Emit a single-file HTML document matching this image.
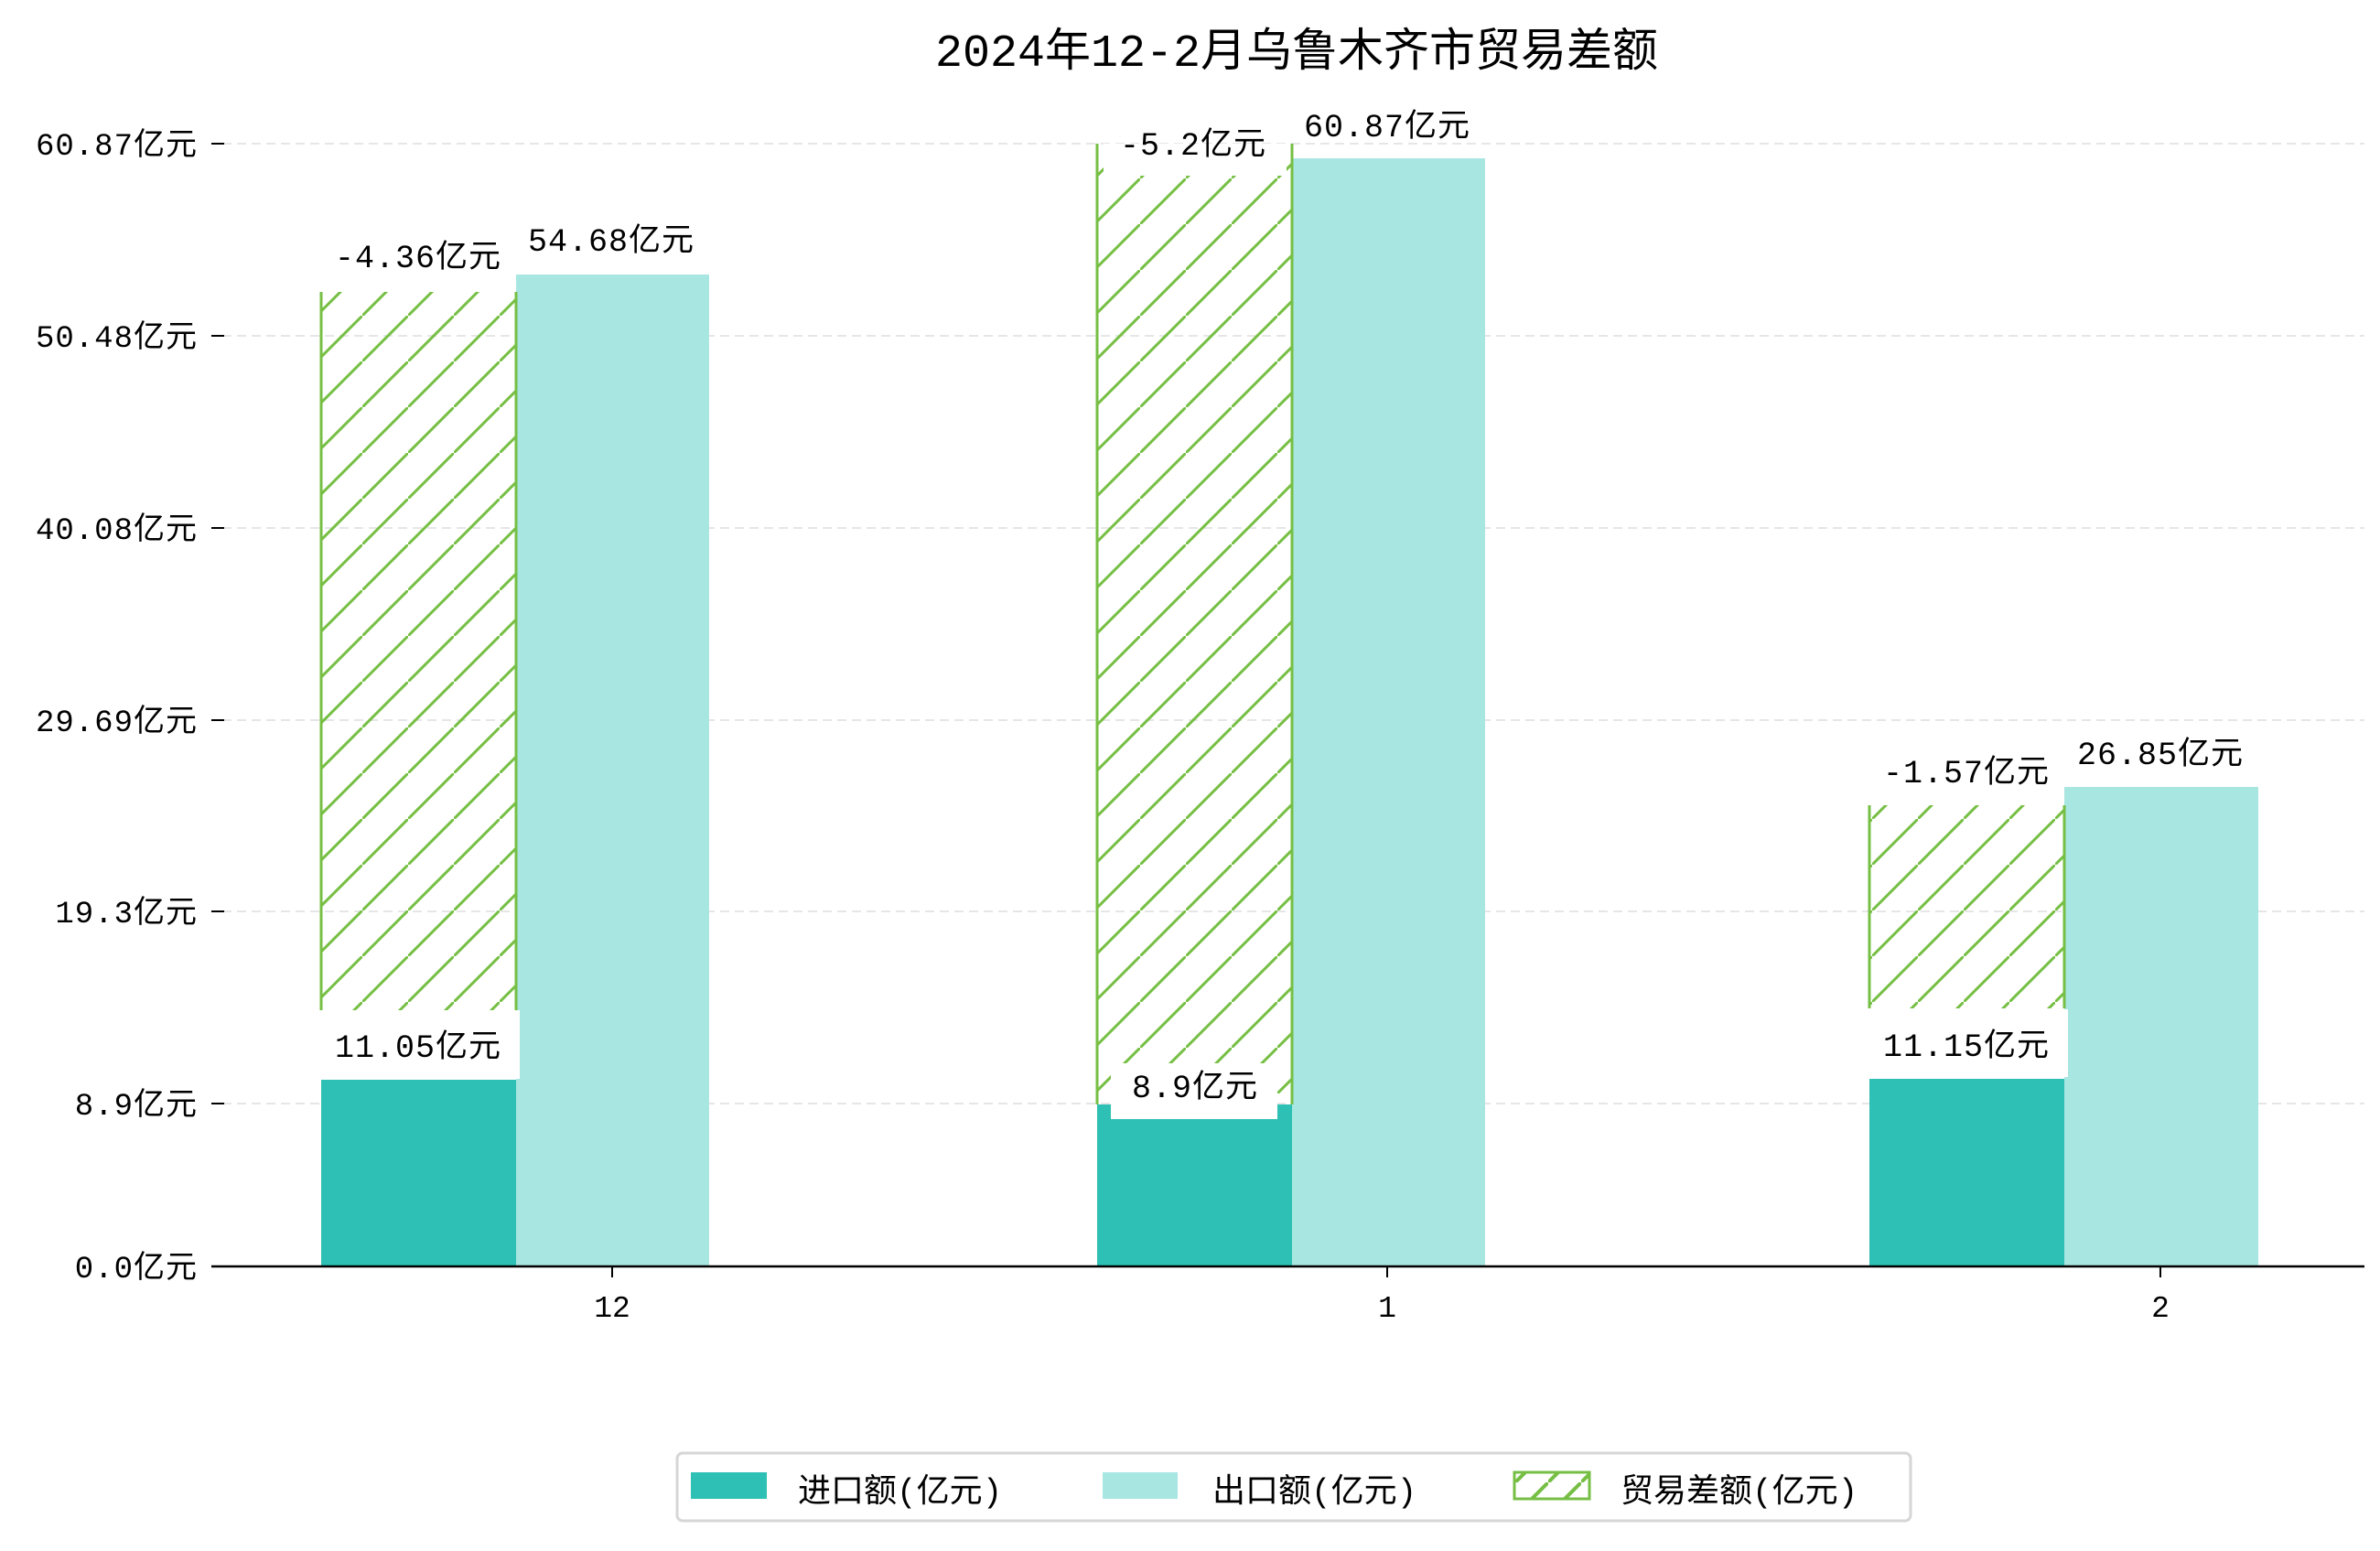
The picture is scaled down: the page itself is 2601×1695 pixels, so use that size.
<!DOCTYPE html>
<html><head><meta charset="utf-8"><style>
body{margin:0;background:#fff}
text{font-family:"Liberation Mono","WenQuanYi Zen Hei","Noto Sans CJK SC",monospace;fill:#000}
</style></head><body>
<svg width="2601" height="1690" viewBox="0 0 2601 1690" xmlns="http://www.w3.org/2000/svg">
<defs>
<pattern id="h" patternUnits="userSpaceOnUse" width="50" height="50" x="0" y="0">
<line x1="-5" y1="55" x2="55" y2="-5" stroke="#76bf44" stroke-width="3"/>
</pattern>
<pattern id="h2" patternUnits="userSpaceOnUse" width="36" height="36">
<line x1="-4" y1="40" x2="40" y2="-4" stroke="#76bf44" stroke-width="4"/>
</pattern>
</defs>
<text x="1417" y="72" font-size="50" text-anchor="middle" font-family="Liberation Mono,WenQuanYi Zen Hei,sans-serif">2024年12-2月乌鲁木齐市贸易差额</text>
<g transform="translate(-4,-5)">
<g stroke="#e6e6e6" stroke-width="2" stroke-dasharray="10,6">
<line x1="247" y1="162" x2="2588" y2="162"/><line x1="247" y1="372" x2="2588" y2="372"/>
<line x1="247" y1="582" x2="2588" y2="582"/><line x1="247" y1="792" x2="2588" y2="792"/>
<line x1="247" y1="1001" x2="2588" y2="1001"/><line x1="247" y1="1211" x2="2588" y2="1211"/>
</g>
<g stroke="#000" stroke-width="2">
<line x1="235" y1="162" x2="249" y2="162"/><line x1="235" y1="372" x2="249" y2="372"/>
<line x1="235" y1="582" x2="249" y2="582"/><line x1="235" y1="792" x2="249" y2="792"/>
<line x1="235" y1="1001" x2="249" y2="1001"/><line x1="235" y1="1211" x2="249" y2="1211"/>
<line x1="235" y1="1389" x2="249" y2="1389"/>
</g>
<g font-size="34" text-anchor="end" letter-spacing="1">
<text x="220" y="174">60.87亿元</text><text x="220" y="384">50.48亿元</text>
<text x="220" y="594">40.08亿元</text><text x="220" y="804">29.69亿元</text>
<text x="220" y="1013">19.3亿元</text><text x="220" y="1223">8.9亿元</text>
<text x="220" y="1401">0.0亿元</text>
</g>
<rect x="355" y="1185" width="213" height="204" fill="#2ec0b4"/>
<rect x="568" y="305" width="211" height="1084" fill="#a8e6e1"/>
<rect x="355" y="324" width="213" height="785" fill="url(#h)"/>
<g stroke="#76bf44" stroke-width="3"><line x1="355" y1="324" x2="355" y2="1109"/><line x1="568" y1="324" x2="568" y2="1109"/></g>
<rect x="1203" y="1212" width="213" height="177" fill="#2ec0b4"/>
<rect x="1416" y="178" width="211" height="1211" fill="#a8e6e1"/>
<rect x="1203" y="162" width="213" height="1050" fill="url(#h)"/>
<g stroke="#76bf44" stroke-width="3"><line x1="1203" y1="162" x2="1203" y2="1212"/><line x1="1416" y1="162" x2="1416" y2="1212"/></g>
<rect x="2047" y="1184" width="213" height="205" fill="#2ec0b4"/>
<rect x="2260" y="865" width="212" height="524" fill="#a8e6e1"/>
<rect x="2047" y="885" width="213" height="222" fill="url(#h)"/>
<g stroke="#76bf44" stroke-width="3"><line x1="2047" y1="885" x2="2047" y2="1107"/><line x1="2260" y1="885" x2="2260" y2="1107"/></g>
<rect x="353" y="1109" width="219" height="75" fill="#fff"/>
<rect x="1218" y="1167" width="182" height="61" fill="#fff"/>
<rect x="2045" y="1108" width="219" height="74" fill="#fff"/>
<rect x="1210" y="162" width="200" height="35" fill="#fff"/>
<g font-size="35" text-anchor="middle" letter-spacing="1">
<text x="461" y="297">-4.36亿元</text><text x="672" y="279">54.68亿元</text><text x="461" y="1160">11.05亿元</text>
<text x="1308" y="174">-5.2亿元</text><text x="1520" y="154">60.87亿元</text><text x="1310" y="1204">8.9亿元</text>
<text x="2153" y="860">-1.57亿元</text><text x="2365" y="840">26.85亿元</text><text x="2153" y="1159">11.15亿元</text>
</g>
<line x1="235" y1="1389" x2="2588" y2="1389" stroke="#000" stroke-width="2.5"/>
<g stroke="#000" stroke-width="2"><line x1="673" y1="1389" x2="673" y2="1401"/><line x1="1520" y1="1389" x2="1520" y2="1401"/><line x1="2365" y1="1389" x2="2365" y2="1401"/></g>
<g font-size="33" text-anchor="middle"><text x="673" y="1444">12</text><text x="1520" y="1444">1</text><text x="2365" y="1444">2</text></g>
</g>
<rect x="740" y="1588" width="1348" height="74" rx="6" fill="#fff" stroke="#d6d6d6" stroke-width="3"/>
<rect x="755" y="1609" width="83" height="29" fill="#2ec0b4"/>
<text x="872" y="1641" font-size="36">进口额(亿元)</text>
<rect x="1205" y="1609" width="82" height="29" fill="#a8e6e1"/>
<text x="1325" y="1641" font-size="36">出口额(亿元)</text>
<rect x="1655" y="1609" width="82" height="29" fill="url(#h2)" stroke="#76bf44" stroke-width="3"/>
<text x="1771" y="1641" font-size="36">贸易差额(亿元)</text>
</svg>
</body></html>
